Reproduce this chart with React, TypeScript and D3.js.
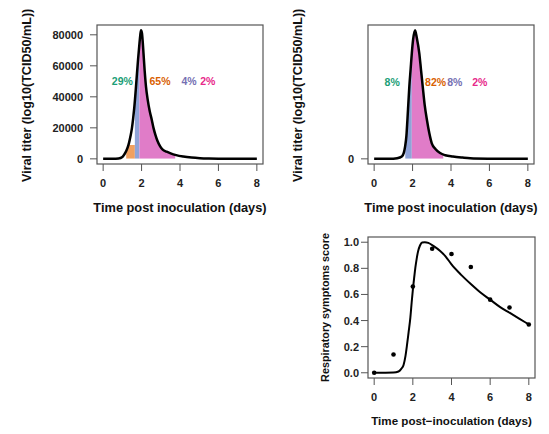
import React from "react";
import * as d3 from "d3";

// ---------- Data ----------
// Panel 1: viral titer curve (day, titer)
const titerDays1 = [0, 0.5, 0.8, 1.0, 1.1, 1.2, 1.28, 1.35, 1.43, 1.5, 1.56, 1.62, 1.7, 1.76, 1.82, 1.88, 1.93, 1.97, 2.02, 2.06, 2.1, 2.16, 2.23, 2.32, 2.42, 2.53, 2.62, 2.72, 2.83, 2.96, 3.1, 3.3, 3.48, 3.8, 4.17, 4.6, 5.04, 5.5, 6, 7, 8];
const titerVals1 = [0, 30, 250, 1200, 2800, 5000, 7500, 10500, 15000, 20000, 26000, 33000, 45000, 55000, 64500, 73000, 79500, 83000, 81000, 75500, 68000, 57000, 46600, 38000, 31000, 25200, 20000, 15500, 11500, 8200, 6000, 4600, 3700, 2400, 1500, 850, 450, 230, 110, 30, 5];
const yTicks1 = [0, 20000, 40000, 60000, 80000];
// segments (start day, end day, upper titer limit) shaded under curve
const segStarts1 = [1.2, 1.65, 1.89];
const segEnds1 = [1.65, 1.89, 3.75];
const segCaps1 = [9000, 1e9, 1e9];
const segColors1 = ["#F0A060", "#8FA3D8", "#E07CC8"];
const pctLabels1 = ["29%", "65%", "4%", "2%"];
const pctX1 = [1.0, 2.96, 4.47, 5.45];
const pctY1 = 50000;

// Panel 2: viral titer curve (relative units, only 0 tick shown)
const titerDays2 = [0, 0.8, 1.2, 1.44, 1.55, 1.61, 1.68, 1.73, 1.78, 1.83, 1.9, 1.96, 2.03, 2.13, 2.22, 2.35, 2.44, 2.53, 2.63, 2.75, 2.87, 3.0, 3.2, 3.43, 3.7, 4.1, 4.6, 5.0, 6, 7, 8];
const titerVals2 = [0, 0, 0.5, 1.8, 5, 9.5, 18, 30, 43, 56, 70, 82, 93, 100, 94, 82, 69, 56, 42, 30, 20, 12, 7.5, 4.5, 2.8, 1.8, 1.0, 0.5, 0.15, 0.05, 0];
const yTicks2 = [0];
const segStarts2 = [1.62, 1.96];
const segEnds2 = [1.96, 3.6];
const segCaps2 = [1e9, 1e9];
const segColors2 = ["#8FA3D8", "#E07CC8"];
const pctLabels2 = ["8%", "82%", "8%", "2%"];
const pctX2 = [0.94, 3.2, 4.2, 5.5];
const pctY2 = 60;

const pctColors = ["#1B9E77", "#D95F02", "#7570B3", "#E7298A"];

// Panel 3: respiratory symptoms
const obsDays = [0, 1, 2, 3, 4, 5, 6, 7, 8];
const obsScore = [0.0, 0.14, 0.66, 0.95, 0.91, 0.81, 0.56, 0.5, 0.37];
const fitDays = [0, 1.0, 1.26, 1.4, 1.52, 1.62, 1.7, 1.78, 1.87, 1.94, 2.01, 2.07, 2.13, 2.2, 2.27, 2.37, 2.48, 2.62, 2.8, 3.08, 3.4, 3.7, 4, 4.5, 5, 5.5, 6, 6.5, 7, 7.5, 8];
const fitScore = [0, 0.002, 0.01, 0.03, 0.06, 0.13, 0.215, 0.31, 0.42, 0.54, 0.65, 0.73, 0.805, 0.875, 0.93, 0.975, 0.998, 1.0, 0.995, 0.97, 0.935, 0.89, 0.83, 0.75, 0.68, 0.615, 0.56, 0.505, 0.46, 0.415, 0.37];
const yTicks3 = [0, 0.2, 0.4, 0.6, 0.8, 1.0];

const xTicks = [0, 2, 4, 6, 8];

const FONT = "'Liberation Sans', Arial, Helvetica, sans-serif";
const AXIS_COL = "#555";

type Box = { left: number; right: number; top: number; bottom: number };

function padDomain(lo: number, hi: number): [number, number] {
  const r = hi - lo;
  return [lo - 0.04 * r, hi + 0.04 * r];
}

function Frame({ box, x, y, yTicks, yFmt, yLabGap, tickFs }: any) {
  return (
    <g>
      <rect x={box.left} y={box.top} width={box.right - box.left} height={box.bottom - box.top} fill="none" stroke={AXIS_COL} strokeWidth={1.2} />
      {xTicks.map((t) => (
        <g key={"x" + t}>
          <line x1={x(t)} x2={x(t)} y1={box.bottom} y2={box.bottom + 7} stroke={AXIS_COL} strokeWidth={1} />
          <text x={x(t)} y={box.bottom + 23} textAnchor="middle" fontFamily={FONT} fontWeight="bold" fontSize={tickFs} fill="#222">{t}</text>
        </g>
      ))}
      {yTicks.map((t: number) => (
        <g key={"y" + t}>
          <line x1={box.left - 7} x2={box.left} y1={y(t)} y2={y(t)} stroke={AXIS_COL} strokeWidth={1} />
          <text x={box.left - yLabGap} y={y(t) + 4} textAnchor="end" fontFamily={FONT} fontWeight="bold" fontSize={tickFs} fill="#222">{yFmt(t)}</text>
        </g>
      ))}
    </g>
  );
}

function TiterPanel({ id, box, days, vals, yTicks, segStarts, segEnds, segCaps, segColors, labels, labelX, labelY, yLabX }: any) {
  const x = d3.scaleLinear().domain(padDomain(0, 8)).range([box.left, box.right]);
  const y = d3.scaleLinear().domain(padDomain(0, d3.max(vals) as number)).range([box.bottom, box.top]);
  const pts: [number, number][] = days.map((d: number, i: number) => [d, vals[i]]);
  const line = d3.line<[number, number]>().x((d) => x(d[0])).y((d) => y(d[1])).curve(d3.curveMonotoneX);
  const area = d3.area<[number, number]>().x((d) => x(d[0])).y0(y(0)).y1((d) => y(d[1])).curve(d3.curveMonotoneX);
  const areaPath = area(pts) || "";
  return (
    <g>
      <defs>
        {segStarts.map((s: number, i: number) => {
          const topY = Math.max(box.top, y(segCaps[i]));
          return (
            <clipPath id={`${id}-seg${i}`} key={i}>
              <rect x={x(s)} y={topY} width={x(segEnds[i]) - x(s)} height={y(0) - topY} />
            </clipPath>
          );
        })}
      </defs>
      {segStarts.map((s: number, i: number) => (
        <path key={i} d={areaPath} fill={segColors[i]} stroke="none" clipPath={`url(#${id}-seg${i})`} />
      ))}
      <path d={line(pts) || ""} fill="none" stroke="#000" strokeWidth={2.5} strokeLinejoin="round" />
      {labels.map((l: string, i: number) => (
        <text key={i} x={x(labelX[i])} y={y(labelY) + 4} textAnchor="middle" fontFamily={FONT} fontWeight="bold" fontSize={10.5} fill={pctColors[i]}>{l}</text>
      ))}
      <Frame box={box} x={x} y={y} yTicks={yTicks} yFmt={(t: number) => String(t)} yLabGap={14} tickFs={11} />
      <text x={(box.left + box.right) / 2} y={212} textAnchor="middle" fontFamily={FONT} fontWeight="bold" fontSize={12.8} fill="#111">Time post inoculation (days)</text>
      <text transform={`translate(${yLabX},182) rotate(-90)`} textAnchor="start" fontFamily={FONT} fontWeight="bold" fontSize={12.6} fill="#111">Viral titer (log10(TCID50/mL))</text>
    </g>
  );
}

function SymptomPanel() {
  const box: Box = { left: 368, right: 535, top: 237, bottom: 378 };
  const x = d3.scaleLinear().domain(padDomain(0, 8)).range([box.left, box.right]);
  const y = d3.scaleLinear().domain(padDomain(0, 1)).range([box.bottom, box.top]);
  const pts: [number, number][] = fitDays.map((d, i) => [d, fitScore[i]]);
  const line = d3.line<[number, number]>().x((d) => x(d[0])).y((d) => y(d[1])).curve(d3.curveMonotoneX);
  return (
    <g>
      <path d={line(pts) || ""} fill="none" stroke="#000" strokeWidth={2} />
      {obsDays.map((d, i) => (
        <circle key={i} cx={x(d)} cy={y(obsScore[i])} r={2.3} fill="#000" />
      ))}
      <Frame box={box} x={x} y={y} yTicks={yTicks3} yFmt={(t: number) => t.toFixed(1)} yLabGap={9} tickFs={11} />
      <text x={(box.left + box.right) / 2} y={425} textAnchor="middle" fontFamily={FONT} fontWeight="bold" fontSize={11.6} fill="#111">Time post−inoculation (days)</text>
      <text transform={`translate(329,${(box.top + box.bottom) / 2}) rotate(-90)`} textAnchor="middle" fontFamily={FONT} fontWeight="bold" fontSize={10.8} fill="#111">Respiratory symptoms score</text>
    </g>
  );
}

export default function App() {
  return (
    <svg width={549} height={434} style={{ position: "absolute", left: 0, top: 0, background: "#fff" }}>
      <rect width={549} height={434} fill="#fff" />
      <TiterPanel id="p1" box={{ left: 97, right: 263, top: 25, bottom: 164 }} days={titerDays1} vals={titerVals1} yTicks={yTicks1}
        segStarts={segStarts1} segEnds={segEnds1} segCaps={segCaps1} segColors={segColors1} labels={pctLabels1} labelX={pctX1} labelY={pctY1} yLabX={31} />
      <TiterPanel id="p2" box={{ left: 368, right: 534, top: 25, bottom: 164 }} days={titerDays2} vals={titerVals2} yTicks={yTicks2}
        segStarts={segStarts2} segEnds={segEnds2} segCaps={segCaps2} segColors={segColors2} labels={pctLabels2} labelX={pctX2} labelY={pctY2} yLabX={302} />
      <SymptomPanel />
    </svg>
  );
}
